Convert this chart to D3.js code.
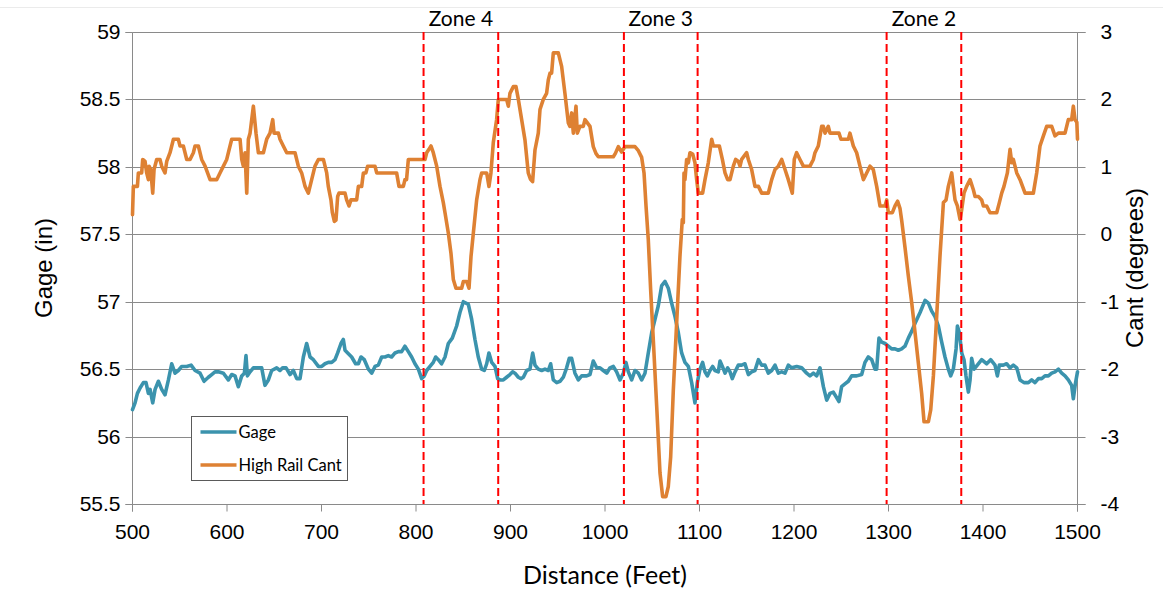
<!DOCTYPE html>
<html>
<head>
<meta charset="utf-8">
<script src="https://cdn.jsdelivr.net/npm/d3@7"></script>
<style>
  body { margin: 0; background: #fff; }
  svg { display: block; }
</style>
</head>
<body>
<svg id="chart" width="1163" height="611"></svg>
<script>
// Axis ticks
const distanceTicks = [500, 600, 700, 800, 900, 1000, 1100, 1200, 1300, 1400, 1500];
const gageTicks = [55.5, 56, 56.5, 57, 57.5, 58, 58.5, 59];
const cantTicks = [-4, -3, -2, -1, 0, 1, 2, 3];

// Curve zones (start / end distance in feet)
const zoneNames = ["Zone 4", "Zone 3", "Zone 2"];
const zoneStart = [808, 1020, 1298];
const zoneEnd = [887, 1098, 1377];

// Series names
const seriesNames = ["Gage", "High Rail Cant"];

// Gage (in) by distance (ft)
const gagePoints = [
  [500,56.2],[502.7,56.25],[505.2,56.32],[508,56.36],[511.5,56.4],[514.3,56.4],[516.8,56.32],[518.6,56.35],
  [521.4,56.25],[523.9,56.35],[527.4,56.41],[530.9,56.35],[534.4,56.31],[538,56.42],[541.5,56.54],[545,56.47],
  [548.5,56.49],[552.1,56.52],[557.4,56.52],[562,56.53],[566.2,56.49],[571.5,56.47],[575.7,56.41],[580.3,56.44],
  [583.8,56.46],[587.3,56.48],[590.9,56.48],[596.2,56.47],[601.4,56.42],[605,56.46],[608.5,56.45],[612,56.37],
  [615.6,56.45],[618.4,56.47],[620.1,56.6],[621.6,56.45],[624.4,56.48],[627.9,56.51],[633.2,56.51],[636.7,56.51],
  [640.2,56.38],[643.8,56.42],[647.3,56.49],[652.6,56.51],[656.1,56.49],[658.9,56.51],[662.5,56.51],[666.7,56.46],
  [670.2,56.49],[673.8,56.43],[677.3,56.43],[680.8,56.59],[684.3,56.69],[687.9,56.59],[691.4,56.57],[696.7,56.52],
  [700.2,56.52],[703.7,56.54],[707.2,56.55],[710.8,56.55],[714.3,56.57],[717.1,56.62],[720.6,56.69],[723.1,56.72],
  [724.9,56.64],[727.7,56.62],[731.9,56.59],[736.1,56.54],[739,56.54],[741.8,56.59],[745.3,56.57],[749.6,56.5],
  [753.1,56.47],[756.6,56.52],[760.1,56.53],[763.7,56.59],[767.2,56.59],[770.7,56.6],[774.2,56.59],[777.8,56.62],
  [781.3,56.63],[784.8,56.63],[788.3,56.67],[791.9,56.63],[795.4,56.59],[798.9,56.54],[802.5,56.5],[806,56.43],
  [808.8,56.45],[811.3,56.49],[814.8,56.52],[818.3,56.55],[820.8,56.59],[823.6,56.57],[827.1,56.54],[830.7,56.59],
  [834.2,56.69],[838.4,56.73],[843,56.82],[846.5,56.92],[850.1,57.0],[855.4,56.98],[858.9,56.87],[862.4,56.72],
  [865.9,56.59],[869.5,56.5],[872.3,56.49],[874.8,56.54],[877.2,56.62],[880.1,56.55],[883.6,56.52],[886.4,56.43],
  [888.9,56.42],[892.4,56.42],[895.9,56.44],[899.4,56.46],[902.3,56.48],[904.7,56.47],[908.3,56.44],[911.1,56.43],
  [913.6,56.44],[917.1,56.49],[920.6,56.5],[923.5,56.62],[925.9,56.53],[929.4,56.5],[933,56.49],[936.5,56.5],
  [940,56.49],[942.5,56.54],[945.3,56.42],[948.9,56.4],[952.4,56.41],[955.9,56.44],[959.4,56.51],[962.2,56.58],
  [964.7,56.58],[968.2,56.47],[971.8,56.42],[975.3,56.45],[980.6,56.45],[984.1,56.46],[987.6,56.56],[991.2,56.51],
  [994.7,56.51],[998.2,56.49],[1001.8,56.47],[1005.3,56.51],[1008.8,56.52],[1012.3,56.48],[1015.9,56.42],[1019.4,56.47],
  [1022.2,56.55],[1024.7,56.48],[1028.2,56.42],[1031.7,56.49],[1035.3,56.47],[1038.8,56.42],[1042.3,56.47],[1045.8,56.62],
  [1049.4,56.77],[1052.9,56.87],[1056.4,56.97],[1060,57.12],[1063.5,57.15],[1067,57.1],[1070.5,56.99],[1074.1,56.89],
  [1077.6,56.77],[1081.1,56.62],[1084.6,56.55],[1088.2,56.52],[1091.7,56.4],[1095.2,56.25],[1097.7,56.4],[1100.5,56.5],
  [1103.3,56.55],[1105.8,56.48],[1108.3,56.45],[1111.1,56.49],[1113.9,56.52],[1116.4,56.49],[1119.9,56.48],[1121.7,56.56],
  [1124.2,56.52],[1127,56.47],[1129.8,56.51],[1132.3,56.48],[1134.7,56.43],[1137.6,56.48],[1141.1,56.53],[1144.6,56.53],
  [1148.1,56.54],[1151.7,56.46],[1155.2,56.48],[1158.7,56.49],[1162.3,56.57],[1165.8,56.53],[1169.3,56.53],[1172.8,56.47],
  [1176.4,56.49],[1179.9,56.53],[1183.4,56.47],[1187,56.48],[1190.5,56.47],[1194,56.53],[1197.5,56.51],[1202.8,56.52],
  [1208.1,56.51],[1213.4,56.47],[1216.9,56.45],[1220.5,56.47],[1224,56.45],[1227.5,56.51],[1231.1,56.37],[1234.6,56.27],
  [1238.1,56.32],[1241.6,56.33],[1247.6,56.26],[1250.4,56.37],[1253.9,56.39],[1257.5,56.41],[1261,56.45],[1266.3,56.45],
  [1271.6,56.46],[1275.1,56.55],[1278.6,56.59],[1282.2,56.57],[1285.7,56.5],[1287.5,56.5],[1289.9,56.73],[1292.8,56.7],
  [1296.3,56.69],[1299.8,56.67],[1303.3,56.65],[1306.9,56.65],[1310.4,56.64],[1313.9,56.65],[1317.4,56.67],[1321,56.73],
  [1324.5,56.78],[1328.1,56.84],[1333.4,56.92],[1338.7,57.01],[1342.2,56.99],[1345.7,56.93],[1349.2,56.89],[1352.8,56.82],
  [1356.3,56.7],[1359.8,56.59],[1363.3,56.5],[1365.8,56.45],[1368.6,56.5],[1371.5,56.65],[1372.9,56.82],[1375,56.77],
  [1377.5,56.62],[1379.9,56.57],[1382,56.45],[1384.5,56.33],[1386.3,56.42],[1388,56.58],[1390.5,56.5],[1394,56.53],
  [1398.6,56.57],[1403.9,56.54],[1408.1,56.57],[1412.7,56.53],[1415.2,56.45],[1417.3,56.53],[1421.5,56.53],[1425,56.54],
  [1428.6,56.51],[1432.1,56.53],[1435.7,56.51],[1439.2,56.42],[1443.4,56.4],[1448,56.4],[1451.5,56.42],[1455,56.4],
  [1458.6,56.43],[1462.1,56.43],[1465.6,56.45],[1469.2,56.45],[1472.7,56.47],[1476.2,56.48],[1479.8,56.5],[1483.3,56.47],
  [1486.8,56.45],[1490.3,56.42],[1493.8,56.38],[1495.6,56.28],[1497.7,56.39],[1500,56.48]
];

// High rail cant (degrees) by distance (ft)
const cantPoints = [
  [500,0.29],[500.9,0.71],[505.2,0.71],[506.2,0.91],[509.7,0.91],[510.8,1.11],[513.3,1.08],[515,0.91],
  [516.8,0.81],[517.5,1.01],[519.3,0.96],[521.4,0.61],[522.8,0.96],[525.6,1.11],[529.1,1.11],[530.9,1.01],
  [534.4,0.91],[536.2,1.08],[539.7,1.21],[543.3,1.41],[548.5,1.41],[550.3,1.31],[553.8,1.31],[557.4,1.11],
  [560.9,1.11],[564.4,1.21],[566.2,1.31],[569.7,1.31],[573.2,1.11],[576.8,1.01],[582.1,0.81],[589.1,0.81],
  [592.6,0.91],[596.2,1.01],[599.7,1.11],[603.2,1.31],[605,1.41],[613.8,1.41],[615.6,1.11],[617.3,1.01],
  [619.1,1.21],[620.9,0.61],[622.6,1.41],[624.4,1.5],[627.9,1.9],[630.7,1.5],[633.2,1.21],[638.5,1.21],
  [642,1.41],[645.5,1.5],[648.4,1.7],[649.8,1.5],[654.4,1.5],[656.1,1.41],[659.6,1.31],[663.2,1.21],
  [672,1.21],[675.5,1.01],[679,0.91],[682.6,0.71],[686.1,0.61],[689.6,0.81],[693.1,1.01],[696.7,1.11],
  [702,1.11],[705.5,0.91],[707.2,0.71],[710,0.51],[711.5,0.32],[713.6,0.19],[715.3,0.21],[717.1,0.56],
  [718.5,0.61],[724.9,0.61],[726.6,0.51],[729.1,0.42],[731.2,0.51],[737.2,0.51],[739,0.71],[742.5,0.71],
  [744.3,0.91],[747,0.91],[748.8,1.01],[756.6,1.01],[758.4,0.91],[779.5,0.91],[782,0.71],[786.6,0.71],
  [788.3,0.81],[790,0.81],[791.9,1.11],[809.5,1.11],[811.3,1.21],[813.7,1.26],[815.9,1.31],[818.3,1.21],
  [821.9,1.01],[825.4,0.71],[828.9,0.47],[830.7,0.32],[834.2,0.02],[837,-0.28],[839.5,-0.67],[842.3,-0.8],
  [848.3,-0.8],[850.1,-0.7],[853.6,-0.7],[856.1,-0.8],[858.2,-0.33],[860.7,0.02],[864.2,0.51],[867.7,0.81],
  [869.5,0.91],[874.8,0.91],[877.2,0.71],[879.3,0.91],[881.8,1.36],[885.3,1.7],[887.1,2.0],[895.9,2.0],
  [897.7,1.9],[899.4,2.09],[903,2.19],[905.8,2.19],[908.3,2.0],[911.8,1.7],[915.3,1.4],[918.8,0.91],
  [921,0.82],[923.4,0.78],[925.9,1.25],[929.4,1.5],[931.2,1.85],[934.7,2.0],[938.2,2.09],[940,2.29],
  [941.8,2.39],[943.5,2.39],[945.3,2.69],[950.6,2.69],[954.1,2.49],[957.6,2.09],[961.2,1.65],[962.9,1.6],
  [964.7,1.8],[966.5,1.5],[969.3,1.9],[970.7,1.5],[973.5,1.6],[977,1.6],[978.8,1.7],[984.1,1.6],
  [987.6,1.3],[990.4,1.2],[992.9,1.15],[1008.8,1.15],[1011,1.2],[1014.1,1.3],[1017.6,1.22],[1021.1,1.3],
  [1031.7,1.3],[1035.3,1.24],[1038.8,1.14],[1041.3,0.91],[1043.4,0.42],[1045.8,-0.08],[1048.3,-0.82],[1051.1,-1.56],
  [1054.7,-2.55],[1058.2,-3.54],[1061,-3.89],[1064.5,-3.89],[1067,-3.74],[1069.5,-3.3],[1072.3,-2.31],[1075.8,-1.32],
  [1079.3,-0.33],[1081.8,0.22],[1082.9,0.17],[1083.6,0.91],[1084.6,0.81],[1086.4,1.11],[1088.2,1.06],[1089.9,1.21],
  [1092.8,1.19],[1095.2,1.06],[1097,0.81],[1098.8,0.61],[1103.3,0.61],[1105.8,0.81],[1109.3,1.06],[1112.9,1.41],
  [1114.6,1.31],[1121,1.31],[1124.2,1.11],[1127,0.91],[1129.8,0.81],[1132.3,0.81],[1135.8,1.01],[1138.3,1.11],
  [1141.1,1.08],[1142.9,1.01],[1144.6,1.11],[1149.9,1.21],[1151.7,1.11],[1155.2,0.96],[1158.7,0.71],[1162.3,0.71],
  [1165.8,0.61],[1172.8,0.61],[1176.4,0.81],[1179.9,0.96],[1183.4,1.01],[1187,1.11],[1190.5,0.96],[1194,0.81],
  [1198.2,0.61],[1200.3,1.11],[1202.8,1.21],[1206.3,1.11],[1209.9,1.01],[1216.9,1.01],[1220.5,1.11],[1222.2,1.21],
  [1225.7,1.31],[1229.3,1.6],[1231,1.6],[1232.8,1.5],[1236.3,1.6],[1238.1,1.5],[1247.6,1.5],[1249.7,1.41],
  [1257.5,1.41],[1259.2,1.5],[1262.8,1.31],[1266.3,1.21],[1269.8,1.01],[1273.4,0.81],[1276.9,0.91],[1280.4,1.01],
  [1283.9,0.96],[1287.5,0.71],[1291,0.42],[1296.3,0.42],[1298.1,0.51],[1299.8,0.32],[1304.1,0.32],[1306.9,0.42],
  [1309.7,0.49],[1312.2,0.38],[1314,0.2],[1317.5,-0.2],[1321,-0.62],[1324.6,-1.02],[1328.1,-1.46],[1331.6,-1.91],
  [1335.1,-2.36],[1337.6,-2.78],[1342.2,-2.78],[1344.7,-2.6],[1347.5,-2.1],[1351,-1.21],[1354.5,-0.32],[1358.1,0.47],
  [1360.9,0.51],[1363.3,0.71],[1366.9,0.91],[1368.6,0.71],[1370.4,0.51],[1372.9,0.42],[1375.7,0.22],[1377.5,0.37],
  [1379.9,0.61],[1382.7,0.71],[1386.3,0.81],[1389.8,0.66],[1391.6,0.56],[1395.1,0.56],[1398.6,0.51],[1400.4,0.42],
  [1403.9,0.42],[1407.4,0.32],[1414.5,0.32],[1417.3,0.47],[1419.8,0.61],[1422.2,0.71],[1425.8,0.91],[1428.6,1.26],
  [1430.4,1.06],[1432.1,1.11],[1435.7,0.91],[1439.2,0.81],[1444.5,0.61],[1453.3,0.61],[1456.8,0.91],[1460.3,1.31],
  [1463.9,1.46],[1467.4,1.6],[1472.7,1.6],[1476.2,1.46],[1479.8,1.5],[1486.8,1.5],[1490.3,1.7],[1493.8,1.7],
  [1495.6,1.9],[1497.4,1.7],[1499.3,1.66],[1500,1.41]
];

const colors = { gage: "#3b93ad", cant: "#de8133", grid: "#8a8a8a", zone: "#ff0000" };

const plot = { left: 132.5, right: 1077.5, top: 32, bottom: 504 };

const svg = d3.select("#chart");

const x = d3.scaleLinear().domain([500, 1500]).range([plot.left, plot.right]);
const yGage = d3.scaleLinear().domain([55.5, 59]).range([plot.bottom, plot.top]);
const yCant = d3.scaleLinear().domain([-4, 3]).range([plot.bottom, plot.top]);

const numFont = "'Liberation Sans', Arial, sans-serif";
const textFont = "Lato, 'Open Sans', sans-serif";

// Faint frame line along the top of the chart area
svg.append("line")
  .attr("x1", 0).attr("x2", 1163).attr("y1", 7.5).attr("y2", 7.5)
  .attr("stroke", "#ebebeb").attr("stroke-width", 1);

// Horizontal gridlines
svg.append("g")
  .selectAll("line")
  .data(gageTicks)
  .join("line")
  .attr("x1", plot.left).attr("x2", plot.right)
  .attr("y1", d => Math.round(yGage(d)) + 0.5).attr("y2", d => Math.round(yGage(d)) + 0.5)
  .attr("stroke", colors.grid).attr("stroke-width", 1);

function styleAxis(g) {
  g.select(".domain").attr("stroke", colors.grid).attr("stroke-width", 1);
  g.selectAll(".tick line").attr("stroke", colors.grid).attr("stroke-width", 1);
  g.selectAll(".tick text").attr("fill", "#000").attr("font-family", numFont).attr("font-size", 21);
}

// Left axis (Gage)
svg.append("g")
  .attr("transform", `translate(${plot.left},0.5)`)
  .call(d3.axisLeft(yGage).tickValues(gageTicks).tickFormat(d3.format("")).tickSize(7).tickPadding(5).offset(0))
  .call(styleAxis)
  .call(g => g.selectAll(".tick").attr("transform", d => `translate(0,${Math.round(yGage(d))})`));

// Right axis (Cant)
svg.append("g")
  .attr("transform", `translate(${plot.right},0.5)`)
  .call(d3.axisRight(yCant).tickValues(cantTicks).tickFormat(d3.format("")).tickSize(8).tickPadding(15).offset(0))
  .call(styleAxis)
  .call(g => g.selectAll(".tick").attr("transform", d => `translate(0,${Math.round(yCant(d))})`))
  .call(g => g.selectAll(".tick text").text(d => d < 0 ? "-" + Math.abs(d) : d));

// Bottom axis (Distance)
svg.append("g")
  .attr("transform", `translate(0,${plot.bottom + 0.5})`)
  .call(d3.axisBottom(x).tickValues(distanceTicks).tickFormat(d3.format("")).tickSize(7).tickPadding(13).offset(0))
  .call(styleAxis);

// Series
const gageLine = d3.line().x(d => x(d[0])).y(d => yGage(d[1]));
const cantLine = d3.line().x(d => x(d[0])).y(d => yCant(d[1]));

svg.append("path")
  .datum(gagePoints)
  .attr("d", gageLine)
  .attr("fill", "none").attr("stroke", colors.gage).attr("stroke-width", 3.6)
  .attr("stroke-linejoin", "round").attr("stroke-linecap", "round");

svg.append("path")
  .datum(cantPoints)
  .attr("d", cantLine)
  .attr("fill", "none").attr("stroke", colors.cant).attr("stroke-width", 3.6)
  .attr("stroke-linejoin", "round").attr("stroke-linecap", "round");

// Zone boundaries and labels
const zones = zoneNames.map((name, i) => ({ name, start: zoneStart[i], end: zoneEnd[i] }));
const bounds = zones.flatMap(z => [z.start, z.end]);

svg.append("g")
  .selectAll("line")
  .data(bounds)
  .join("line")
  .attr("x1", d => x(d)).attr("x2", d => x(d))
  .attr("y1", plot.top).attr("y2", plot.bottom)
  .attr("stroke", colors.zone).attr("stroke-width", 2)
  .attr("stroke-dasharray", "8,4");

svg.append("g")
  .selectAll("text")
  .data(zones)
  .join("text")
  .attr("x", d => x((d.start + d.end) / 2))
  .attr("y", 26)
  .attr("text-anchor", "middle")
  .attr("font-family", textFont)
  .attr("font-size", 21)
  .attr("fill", "#000")
  .text(d => d.name);

// Axis titles
svg.append("text")
  .attr("transform", `translate(52,${(plot.top + plot.bottom) / 2}) rotate(-90)`)
  .attr("text-anchor", "middle")
  .attr("font-family", numFont).attr("font-size", 24).attr("fill", "#000")
  .text("Gage (in)");

svg.append("text")
  .attr("transform", `translate(1143,${(plot.top + plot.bottom) / 2}) rotate(-90)`)
  .attr("text-anchor", "middle")
  .attr("font-family", numFont).attr("font-size", 24).attr("fill", "#000")
  .text("Cant (degrees)");

svg.append("text")
  .attr("x", (plot.left + plot.right) / 2)
  .attr("y", 584)
  .attr("text-anchor", "middle")
  .attr("font-family", textFont).attr("font-size", 25).attr("fill", "#000")
  .text("Distance (Feet)");

// Legend
const legend = svg.append("g").attr("transform", "translate(191.5,416.5)");
legend.append("rect")
  .attr("width", 156).attr("height", 64)
  .attr("fill", "#fff").attr("stroke", "#5a5a5a").attr("stroke-width", 1);

const legendItems = [
  { name: seriesNames[0], color: colors.gage },
  { name: seriesNames[1], color: colors.cant }
];
const legendRow = legend.selectAll("g.item")
  .data(legendItems)
  .join("g")
  .attr("class", "item")
  .attr("transform", (d, i) => `translate(0,${15.5 + i * 33})`);
legendRow.append("line")
  .attr("x1", 9).attr("x2", 45)
  .attr("stroke", d => d.color).attr("stroke-width", 3.6);
legendRow.append("text")
  .attr("x", 47).attr("y", 0)
  .attr("dy", "0.35em")
  .attr("font-family", textFont).attr("font-size", 16.5).attr("fill", "#000")
  .text(d => d.name);
</script>
</body>
</html>
